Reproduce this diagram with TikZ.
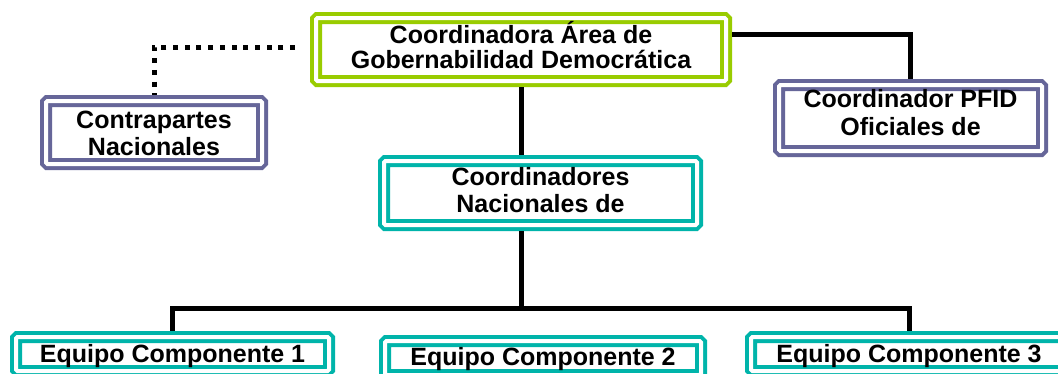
\documentclass[tikz,border=0pt]{standalone}
\usepackage{fontspec}
\setmainfont{Liberation Sans}
\definecolor{limeline}{RGB}{153,204,0}
\definecolor{slateline}{RGB}{102,102,153}
\definecolor{tealline}{RGB}{0,180,170}
\begin{document}
\begin{tikzpicture}[x=1pt,y=-1pt,
  dbox/.style={draw=#1, line width=4pt, double=white, double distance=4pt,
    fill=white, rounded corners=1.5pt, inner sep=0pt, outer sep=6pt,
    align=center, text height=18pt, font=\bfseries\fontsize{25}{27}\selectfont},
  link/.style={line width=5pt, draw=black},
  dotlink/.style={line width=5pt, draw=black, dash pattern=on 5pt off 6.7pt}]
\useasboundingbox (0,0) rectangle (1058,373);
\clip (0,0) rectangle (1058,373);
\fill[white] (0,0) rectangle (1058,373);

\node[dbox=limeline, minimum width=410pt, minimum height=63pt, text height=43pt, text depth=6pt,
  font=\bfseries\fontsize{25}{25}\selectfont] (top) at (521,49.5)
  {Coordinadora Área de\\Gobernabilidad Democrática};
\node[dbox=slateline, minimum width=216pt, minimum height=63pt, text height=45pt, text depth=0pt] (contra) at (154,132.5)
  {Contrapartes\\Nacionales};
\node[dbox=slateline, minimum width=263pt, minimum height=66pt, text height=46pt, text depth=12pt,
  font=\bfseries\fontsize{25}{28}\selectfont] (pfid) at (910.5,118)
  {Coordinador PFID\\Oficiales de};
\node[dbox=tealline, minimum width=313pt, minimum height=64pt, text height=45pt, text depth=7pt] (coord) at (540.5,193)
  {Coordinadores\\Nacionales de};
\node[dbox=tealline, minimum width=313pt, minimum height=34pt, text depth=2pt] (eq1) at (172.5,354)
  {Equipo Componente 1};
\node[dbox=tealline, minimum width=316pt, minimum height=34pt, text depth=4pt] (eq2) at (543,358)
  {Equipo Componente 2};
\node[dbox=tealline, minimum width=316pt, minimum height=34pt, text depth=2pt] (eq3) at (909,354)
  {Equipo Componente 3};

\coordinate (bus) at (top.south |- 0,308);
\draw[link] (top.south) -- (top.south |- coord.north);
\draw[link] (coord.south -| top.south) -- (bus);
\draw[link] (eq1.north) |- (bus) -| (eq3.north);
\draw[link] ([yshift=-22pt]top.north east) -| (pfid.north);
\draw[dotlink, shorten <=15pt] ([yshift=-35pt]top.north west) -| (contra.north);
\end{tikzpicture}
\end{document}
